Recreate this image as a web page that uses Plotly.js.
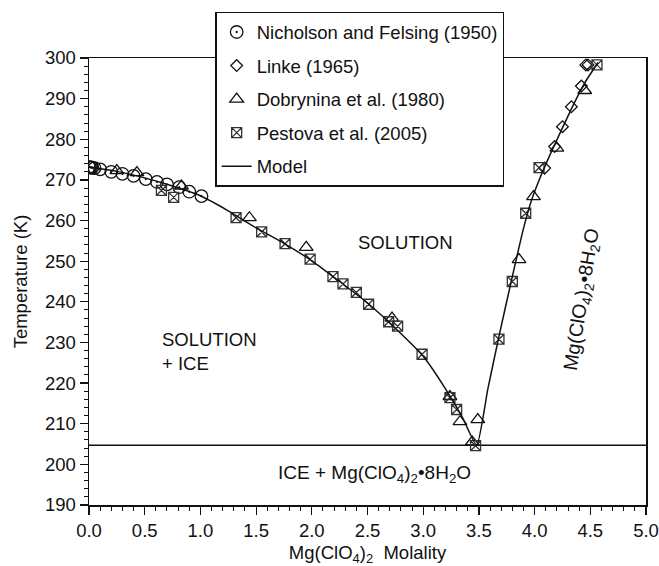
<!DOCTYPE html>
<html>
<head>
<meta charset="utf-8">
<script src="https://cdn.plot.ly/plotly-3.0.1.min.js"></script>
<style>html,body{margin:0;padding:0;background:#fff;}#chart{width:659px;height:566px;}</style>
</head>
<body>
<div id="chart"></div>
<script>
// Nicholson and Felsing (1950)
const nicholsonM = [0.0, 0.01, 0.02, 0.03, 0.05, 0.10, 0.20, 0.30, 0.40, 0.51, 0.61, 0.70, 0.81, 0.90, 1.01];
const nicholsonT = [273.15, 273.1, 273.05, 273.0, 272.9, 272.6, 272.0, 271.5, 271.0, 270.2, 269.5, 268.9, 268.2, 267.1, 266.0];
// Linke (1965)
const linkeM = [4.09, 4.18, 4.25, 4.33, 4.42, 4.46, 4.48];
const linkeT = [272.9, 278.2, 283.1, 288.0, 293.1, 298.3, 298.3];
// Dobrynina et al. (1980)
const dobryninaM = [0.25, 0.43, 0.83, 1.44, 1.95, 2.72, 3.24, 3.33, 3.44, 3.49, 3.86, 3.99, 4.20, 4.45];
const dobryninaT = [272.3, 271.8, 268.5, 260.7, 253.4, 236.0, 216.7, 210.5, 205.5, 211.0, 250.4, 265.9, 277.8, 292.0];
// Pestova et al. (2005)
const pestovaM = [0.65, 0.76, 1.32, 1.55, 1.76, 1.985, 2.19, 2.28, 2.40, 2.51, 2.69, 2.77, 2.99, 3.24, 3.30, 3.47, 3.68, 3.80, 3.92, 4.04, 4.56];
const pestovaT = [267.4, 265.7, 260.7, 257.2, 254.3, 250.5, 246.2, 244.4, 242.3, 239.4, 235.1, 234.0, 227.1, 216.4, 213.5, 204.6, 230.8, 245.0, 261.8, 273.0, 298.3];
// Model (ice branch then Mg(ClO4)2·8H2O branch)
const modelM = [0, 0.25, 0.5, 0.75, 1.0, 1.25, 1.5, 1.75, 2.0, 2.25, 2.5, 2.75, 3.0, 3.2, 3.35, 3.48,
                3.58, 3.68, 3.80, 3.90, 3.97, 4.05, 4.15, 4.25, 4.35, 4.45, 4.57];
const modelT = [273.15, 272.1, 270.5, 268.5, 266.1, 262.4, 258.2, 254.4, 250.1, 245.0, 239.7, 233.5, 226.6, 218.6, 211.7, 204.7,
                218.5, 231.5, 246.2, 258.0, 264.8, 270.6, 276.9, 282.8, 288.6, 293.9, 298.9];
// Eutectic
const eutecticM = [0, 5];
const eutecticT = [204.7, 204.7];

const FONT = '"Liberation Sans", Arial, Helvetica, sans-serif';
const mk = (symbol, size, color) => ({symbol: symbol, size: size, color: color || '#111', line: {color: color || '#111', width: 1.3}});

const traces = [
  {x: eutecticM, y: eutecticT, mode: 'lines', line: {color: '#111', width: 1.5}, showlegend: false, hoverinfo: 'skip'},
  {x: nicholsonM, y: nicholsonT, mode: 'markers', name: 'Nicholson and Felsing (1950)', legendgroup: 'a', marker: mk('circle-open-dot', 12.5)},
  {x: linkeM, y: linkeT, mode: 'markers', name: 'Linke (1965)', legendgroup: 'b', marker: mk('diamond-open', 9)},
  {x: dobryninaM, y: dobryninaT, mode: 'markers', name: 'Dobrynina et al. (1980)', legendgroup: 'c', marker: mk('triangle-up-open', 12)},
  {x: pestovaM, y: pestovaT, mode: 'markers', name: 'Pestova et al. (2005)', legendgroup: 'd', marker: mk('square-x-open', 10, '#333')},
  {x: modelM, y: modelT, mode: 'lines', name: 'Model', legendgroup: 'e', line: {color: '#111', width: 1.5, shape: 'spline', smoothing: 0.5}}
];

const axisCommon = {
  showgrid: false, zeroline: false, showline: true, linecolor: '#111', linewidth: 1.5, mirror: true,
  ticks: 'outside', ticklen: 8, tickwidth: 1.2, tickcolor: '#111', ticklabeloverflow: 'allow',
  tickfont: {family: FONT, size: 18.5, color: '#111'}
};

const layout = {
  width: 659, height: 566,
  margin: {l: 89, r: 13, t: 58, b: 61},
  paper_bgcolor: '#fff', plot_bgcolor: '#fff',
  font: {family: FONT, size: 18, color: '#111'},
  xaxis: Object.assign({}, axisCommon, {
    range: [0, 5], dtick: 0.5, tick0: 0, tickformat: '.1f',
    minor: {dtick: 0.1, ticks: 'outside', ticklen: 4, tickwidth: 1, tickcolor: '#111', showgrid: false},
    title: {text: 'Mg(ClO<sub>4</sub>)<sub>2</sub>  Molality', font: {family: FONT, size: 18.5, color: '#111'}, standoff: 10}
  }),
  yaxis: Object.assign({}, axisCommon, {
    range: [190, 300], dtick: 10, tick0: 190,
    minor: {dtick: 2, ticks: 'outside', ticklen: 4, tickwidth: 1, tickcolor: '#111', showgrid: false},
    title: {text: 'Temperature (K)', font: {family: FONT, size: 18.5, color: '#111'}, standoff: 12}
  }),
  showlegend: true,
  legend: {
    x: 0.2265, y: 1.103, xanchor: 'left', yanchor: 'top',
    bgcolor: '#fff', bordercolor: '#111', borderwidth: 1.5,
    font: {family: FONT, size: 18.5, color: '#111'},
    traceorder: 'grouped', tracegroupgap: 6.5
  },
  annotations: [
    {x: 2.84, y: 254.5, xref: 'x', yref: 'y', text: 'SOLUTION', showarrow: false, font: {family: FONT, size: 18.5, color: '#111'}},
    {x: 0.635, y: 227.7, xref: 'x', yref: 'y', text: 'SOLUTION<br>+ ICE', align: 'left', xanchor: 'left', showarrow: false, font: {family: FONT, size: 18.5, color: '#111'}},
    {x: 2.56, y: 197.6, xref: 'x', yref: 'y', text: 'ICE + Mg(ClO<sub>4</sub>)<sub>2</sub>•8H<sub>2</sub>O', showarrow: false, font: {family: FONT, size: 19, color: '#111'}},
    {x: 4.43, y: 240.5, xref: 'x', yref: 'y', text: 'Mg(ClO<sub>4</sub>)<sub>2</sub>•8H<sub>2</sub>O', textangle: -81, showarrow: false, font: {family: FONT, size: 19.5, color: '#111'}}
  ]
};

Plotly.newPlot('chart', traces, layout, {displayModeBar: false, staticPlot: true});
</script>
</body>
</html>
